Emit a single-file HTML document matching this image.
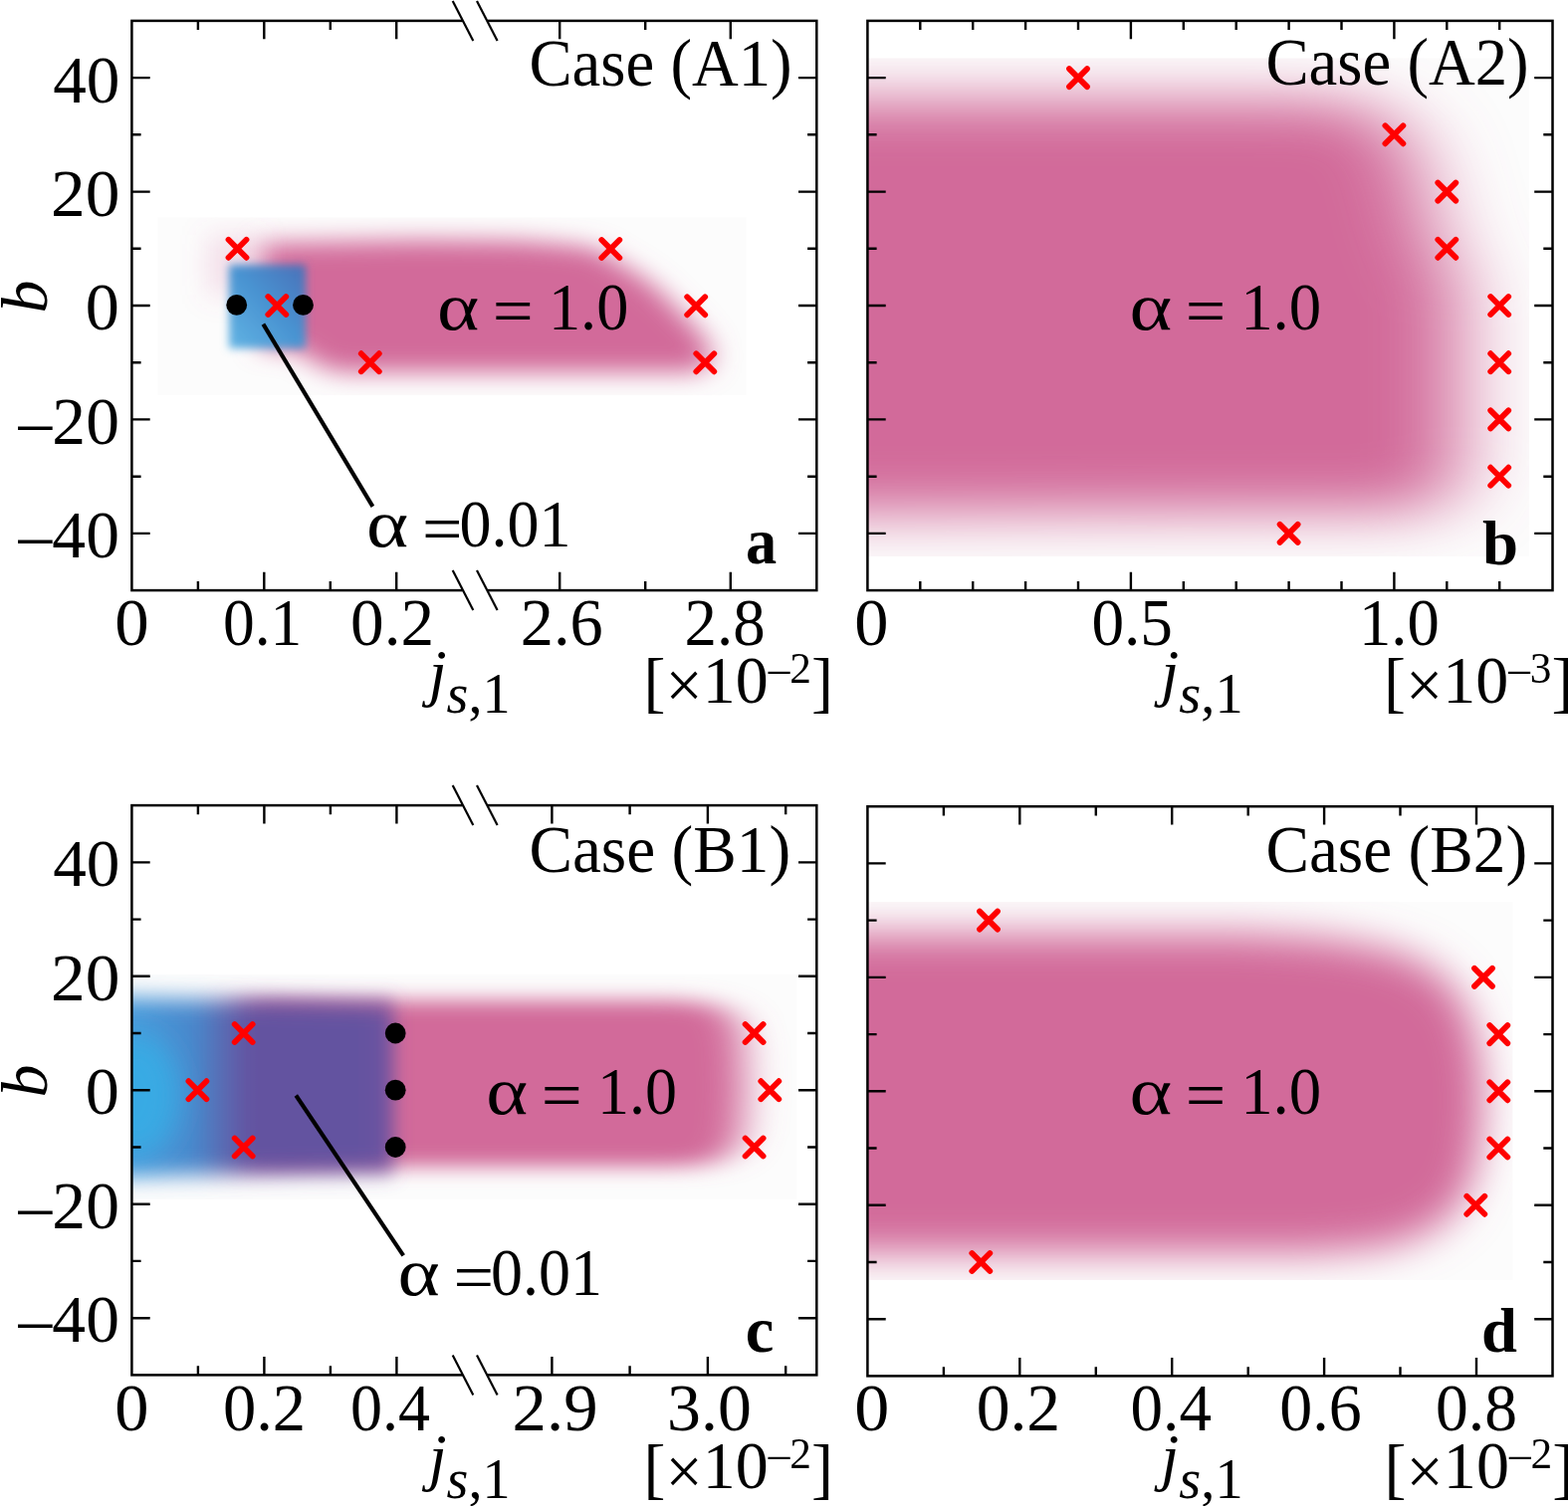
<!DOCTYPE html>
<html><head><meta charset="utf-8"><title>Figure</title>
<style>html,body{margin:0;padding:0;background:#fff;}svg{display:block;}</style></head>
<body><svg width="1575" height="1513" viewBox="0 0 1575 1513">
<defs>
<filter id="bA" x="-20%" y="-40%" width="140%" height="180%"><feGaussianBlur stdDeviation="14 12"/></filter>
<filter id="bA2" x="-50%" y="-50%" width="200%" height="200%"><feGaussianBlur stdDeviation="14"/></filter>
<filter id="bB" x="-30%" y="-30%" width="160%" height="160%"><feGaussianBlur stdDeviation="4"/></filter>
<filter id="bC" x="-20%" y="-20%" width="140%" height="140%"><feGaussianBlur stdDeviation="42 28"/></filter>
<filter id="bD" x="-20%" y="-40%" width="140%" height="180%"><feGaussianBlur stdDeviation="20 10"/></filter>
<filter id="bE" x="-20%" y="-40%" width="140%" height="180%"><feGaussianBlur stdDeviation="9 11"/></filter>
<filter id="bG" x="-100%" y="-100%" width="300%" height="300%"><feGaussianBlur stdDeviation="14"/></filter>
<filter id="bF" x="-20%" y="-20%" width="140%" height="140%"><feGaussianBlur stdDeviation="20 20"/></filter>
<linearGradient id="gA" x1="0" y1="1" x2="1" y2="0">
 <stop offset="0" stop-color="#62b4e4"/><stop offset="0.5" stop-color="#4a94d2"/><stop offset="1" stop-color="#4a70b8"/>
</linearGradient>
<linearGradient id="gC" gradientUnits="userSpaceOnUse" x1="132" y1="0" x2="395" y2="0">
 <stop offset="0" stop-color="#4a9ada"/><stop offset="0.24" stop-color="#4888cc"/><stop offset="0.354" stop-color="#5a6ab2"/><stop offset="0.449" stop-color="#6452a0"/><stop offset="0.886" stop-color="#6452a0"/><stop offset="1" stop-color="#7052a0"/>
</linearGradient>
</defs>
<rect width="1575" height="1513" fill="#fff"/>

<clipPath id="ca"><rect x="158.4" y="218.4" width="591.1" height="178.6"/></clipPath>
<rect x="158.4" y="218.4" width="591.1" height="178.6" fill="#fcfcfc"/>
<g clip-path="url(#ca)">
 <g filter="url(#bA)">
  <path fill="#d26a9a" d="M262.0 244.0 L420.0 241.0 L520.0 242.0 L570.0 246.0 L598.0 250.0 L618.0 262.0 L640.0 275.0 L660.0 290.0 L676.0 306.0 L692.0 322.0 L706.0 338.0 L714.0 352.0 L714.0 366.0 L700.0 374.0 L340.0 374.0 L318.0 366.0 L300.0 352.0 L262.0 350.0 Z"/>
 </g>
 <g filter="url(#bA2)">
  <path fill="#d26a9a" fill-opacity="0.2" d="M208 236 L262 236 L262 296 L208 296 Z"/>
 </g>
 <g filter="url(#bB)">
  <rect x="230" y="266" width="77" height="84" fill="url(#gA)"/>
 </g>
</g>

<clipPath id="cb"><rect x="871.4" y="58.5" width="664.6" height="500.5"/></clipPath>
<rect x="871.4" y="58.5" width="664.6" height="500.5" fill="#fcfcfc"/>
<g clip-path="url(#cb)">
 <g filter="url(#bC)">
  <path fill="#d26a9a" d="M760.0 100.0 L1330.0 100.0 L1372.0 106.0 L1400.0 122.0 L1418.0 148.0 L1430.0 185.0 L1440.0 230.0 L1450.0 256.0 L1465.0 280.0 L1467.0 300.0 L1467.0 470.0 L1457.0 500.0 L1432.0 514.0 L760.0 516.0 Z"/>
 </g>
</g>

<clipPath id="cc"><rect x="132.4" y="979" width="668" height="226"/></clipPath>
<rect x="132.4" y="979" width="668" height="226" fill="#fcfcfc"/>
<g clip-path="url(#cc)">
 <g filter="url(#bD)">
  <path fill="#d26a9a" d="M240.0 1005.0 L690.0 1005.0 L720.0 1010.0 L738.0 1022.0 L746.0 1045.0 L748.0 1095.0 L745.0 1138.0 L735.0 1158.0 L715.0 1169.0 L690.0 1172.0 L240.0 1172.0 Z"/>
 </g>
 <g filter="url(#bE)">
  <path fill="url(#gC)" d="M100 1001 L250 1005 L395 1009 L395 1176 L250 1179 L100 1183 Z"/>
 </g>
 <g filter="url(#bG)">
  <ellipse cx="136" cy="1100" rx="44" ry="62" fill="#38aae4"/>
 </g>
</g>

<clipPath id="cd"><rect x="871.4" y="906" width="648" height="380"/></clipPath>
<rect x="871.4" y="906" width="648" height="380" fill="#fcfcfc"/>
<g clip-path="url(#cd)">
 <g filter="url(#bF)">
  <path fill="#d26a9a" d="M760.0 938.0 L1250.0 938.0 L1330.0 943.0 L1390.0 953.0 L1430.0 968.0 L1458.0 990.0 L1476.0 1021.0 L1486.0 1061.0 L1489.0 1101.0 L1487.0 1141.0 L1480.0 1181.0 L1465.0 1213.0 L1435.0 1238.0 L1390.0 1253.0 L1320.0 1259.0 L760.0 1259.0 Z"/>
 </g>
</g>
<g stroke="#000" stroke-width="2.4" fill="none"><rect x="132.4" y="20.9" width="687.9" height="572.2" fill="none" stroke="#000" stroke-width="2.5"/><path d="M132.4 535.9h18.3M820.3 535.9h-18.3"/><path d="M132.4 478.7h9.2M820.3 478.7h-9.2"/><path d="M132.4 421.4h18.3M820.3 421.4h-18.3"/><path d="M132.4 364.2h9.2M820.3 364.2h-9.2"/><path d="M132.4 307.0h18.3M820.3 307.0h-18.3"/><path d="M132.4 249.8h9.2M820.3 249.8h-9.2"/><path d="M132.4 192.6h18.3M820.3 192.6h-18.3"/><path d="M132.4 135.3h9.2M820.3 135.3h-9.2"/><path d="M132.4 78.1h18.3M820.3 78.1h-18.3"/><path d="M198.9 20.9v9.2M198.9 593.1v-9.2"/><path d="M265.3 20.9v18.3M265.3 593.1v-18.3"/><path d="M331.8 20.9v9.2M331.8 593.1v-9.2"/><path d="M398.2 20.9v18.3M398.2 593.1v-18.3"/><path d="M562.2 20.9v18.3M562.2 593.1v-18.3"/><path d="M648.2 20.9v9.2M648.2 593.1v-9.2"/><path d="M733.8 20.9v18.3M733.8 593.1v-18.3"/></g>
<g stroke="#000" stroke-width="2.4" fill="none"><rect x="871.4" y="20.9" width="688.1" height="572.2" fill="none" stroke="#000" stroke-width="2.5"/><path d="M871.4 535.9h18.3M1559.5 535.9h-18.3"/><path d="M871.4 478.7h9.2M1559.5 478.7h-9.2"/><path d="M871.4 421.4h18.3M1559.5 421.4h-18.3"/><path d="M871.4 364.2h9.2M1559.5 364.2h-9.2"/><path d="M871.4 307.0h18.3M1559.5 307.0h-18.3"/><path d="M871.4 249.8h9.2M1559.5 249.8h-9.2"/><path d="M871.4 192.6h18.3M1559.5 192.6h-18.3"/><path d="M871.4 135.3h9.2M1559.5 135.3h-9.2"/><path d="M871.4 78.1h18.3M1559.5 78.1h-18.3"/><path d="M924.3 20.9v9.2M924.3 593.1v-9.2"/><path d="M977.2 20.9v9.2M977.2 593.1v-9.2"/><path d="M1030.1 20.9v9.2M1030.1 593.1v-9.2"/><path d="M1083.0 20.9v9.2M1083.0 593.1v-9.2"/><path d="M1135.9 20.9v18.3M1135.9 593.1v-18.3"/><path d="M1188.8 20.9v9.2M1188.8 593.1v-9.2"/><path d="M1241.7 20.9v9.2M1241.7 593.1v-9.2"/><path d="M1294.6 20.9v9.2M1294.6 593.1v-9.2"/><path d="M1347.5 20.9v9.2M1347.5 593.1v-9.2"/><path d="M1400.4 20.9v18.3M1400.4 593.1v-18.3"/><path d="M1453.3 20.9v9.2M1453.3 593.1v-9.2"/><path d="M1506.2 20.9v9.2M1506.2 593.1v-9.2"/></g>
<g stroke="#000" stroke-width="2.4" fill="none"><rect x="132.4" y="809.1" width="687.9" height="572.3" fill="none" stroke="#000" stroke-width="2.5"/><path d="M132.4 1324.2h18.3M820.3 1324.2h-18.3"/><path d="M132.4 1266.9h9.2M820.3 1266.9h-9.2"/><path d="M132.4 1209.7h18.3M820.3 1209.7h-18.3"/><path d="M132.4 1152.5h9.2M820.3 1152.5h-9.2"/><path d="M132.4 1095.2h18.3M820.3 1095.2h-18.3"/><path d="M132.4 1038.0h9.2M820.3 1038.0h-9.2"/><path d="M132.4 980.8h18.3M820.3 980.8h-18.3"/><path d="M132.4 923.6h9.2M820.3 923.6h-9.2"/><path d="M132.4 866.4h18.3M820.3 866.4h-18.3"/><path d="M198.9 809.1v9.2M198.9 1381.4v-9.2"/><path d="M265.4 809.1v18.3M265.4 1381.4v-18.3"/><path d="M331.9 809.1v9.2M331.9 1381.4v-9.2"/><path d="M398.4 809.1v18.3M398.4 1381.4v-18.3"/><path d="M554.4 809.1v18.3M554.4 1381.4v-18.3"/><path d="M632.6 809.1v9.2M632.6 1381.4v-9.2"/><path d="M710.9 809.1v18.3M710.9 1381.4v-18.3"/><path d="M789.2 809.1v9.2M789.2 1381.4v-9.2"/></g>
<g stroke="#000" stroke-width="2.4" fill="none"><rect x="871.4" y="810.2" width="688.1" height="572.2" fill="none" stroke="#000" stroke-width="2.5"/><path d="M871.4 1325.2h18.3M1559.5 1325.2h-18.3"/><path d="M871.4 1268.0h9.2M1559.5 1268.0h-9.2"/><path d="M871.4 1210.8h18.3M1559.5 1210.8h-18.3"/><path d="M871.4 1153.5h9.2M1559.5 1153.5h-9.2"/><path d="M871.4 1096.3h18.3M1559.5 1096.3h-18.3"/><path d="M871.4 1039.1h9.2M1559.5 1039.1h-9.2"/><path d="M871.4 981.9h18.3M1559.5 981.9h-18.3"/><path d="M871.4 924.6h9.2M1559.5 924.6h-9.2"/><path d="M871.4 867.4h18.3M1559.5 867.4h-18.3"/><path d="M947.9 810.2v9.2M947.9 1382.4v-9.2"/><path d="M1024.3 810.2v18.3M1024.3 1382.4v-18.3"/><path d="M1100.8 810.2v9.2M1100.8 1382.4v-9.2"/><path d="M1177.2 810.2v18.3M1177.2 1382.4v-18.3"/><path d="M1253.7 810.2v9.2M1253.7 1382.4v-9.2"/><path d="M1330.1 810.2v18.3M1330.1 1382.4v-18.3"/><path d="M1406.5 810.2v9.2M1406.5 1382.4v-9.2"/><path d="M1483.0 810.2v18.3M1483.0 1382.4v-18.3"/></g>
<rect x="464.5" y="18.4" width="25.0" height="5" fill="#fff"/><line x1="454.7" y1="0.9" x2="475.3" y2="40.9" stroke="#000" stroke-width="2.2"/><line x1="479.0" y1="0.9" x2="499.6" y2="40.9" stroke="#000" stroke-width="2.2"/><rect x="464.5" y="590.6" width="25.0" height="5" fill="#fff"/><line x1="454.7" y1="573.1" x2="475.3" y2="613.1" stroke="#000" stroke-width="2.2"/><line x1="479.0" y1="573.1" x2="499.6" y2="613.1" stroke="#000" stroke-width="2.2"/>
<rect x="464.5" y="806.6" width="25.0" height="5" fill="#fff"/><line x1="454.7" y1="789.1" x2="475.3" y2="829.1" stroke="#000" stroke-width="2.2"/><line x1="479.0" y1="789.1" x2="499.6" y2="829.1" stroke="#000" stroke-width="2.2"/><rect x="464.5" y="1378.9" width="25.0" height="5" fill="#fff"/><line x1="454.7" y1="1361.4" x2="475.3" y2="1401.4" stroke="#000" stroke-width="2.2"/><line x1="479.0" y1="1361.4" x2="499.6" y2="1401.4" stroke="#000" stroke-width="2.2"/>
<g stroke="#ff0000" stroke-width="5.8" stroke-linecap="round" fill="none"><path d="M229.5 240.8L247.5 258.8M229.5 258.8L247.5 240.8"/><path d="M269.3 298.0L287.3 316.0M269.3 316.0L287.3 298.0"/><path d="M362.8 355.2L380.8 373.2M362.8 373.2L380.8 355.2"/><path d="M604.3 241.0L622.3 259.0M604.3 259.0L622.3 241.0"/><path d="M690.2 298.3L708.2 316.3M690.2 316.3L708.2 298.3"/><path d="M699.3 355.3L717.3 373.3M699.3 373.3L717.3 355.3"/><path d="M1074.0 69.1L1092.0 87.1M1074.0 87.1L1092.0 69.1"/><path d="M1391.4 126.3L1409.4 144.3M1391.4 144.3L1409.4 126.3"/><path d="M1444.3 183.6L1462.3 201.6M1444.3 201.6L1462.3 183.6"/><path d="M1444.3 240.8L1462.3 258.8M1444.3 258.8L1462.3 240.8"/><path d="M1497.2 298.0L1515.2 316.0M1497.2 316.0L1515.2 298.0"/><path d="M1497.2 355.2L1515.2 373.2M1497.2 373.2L1515.2 355.2"/><path d="M1497.2 412.4L1515.2 430.4M1497.2 430.4L1515.2 412.4"/><path d="M1497.2 469.7L1515.2 487.7M1497.2 487.7L1515.2 469.7"/><path d="M1285.6 526.9L1303.6 544.9M1285.6 544.9L1303.6 526.9"/><path d="M235.7 1029.0L253.7 1047.0M235.7 1047.0L253.7 1029.0"/><path d="M189.4 1086.2L207.4 1104.2M189.4 1104.2L207.4 1086.2"/><path d="M235.7 1143.5L253.7 1161.5M235.7 1161.5L253.7 1143.5"/><path d="M748.6 1029.0L766.6 1047.0M748.6 1047.0L766.6 1029.0"/><path d="M764.3 1086.2L782.3 1104.2M764.3 1104.2L782.3 1086.2"/><path d="M748.6 1143.5L766.6 1161.5M748.6 1161.5L766.6 1143.5"/><path d="M984.0 915.6L1002.0 933.6M984.0 933.6L1002.0 915.6"/><path d="M1481.0 972.9L1499.0 990.9M1481.0 990.9L1499.0 972.9"/><path d="M1496.3 1030.1L1514.3 1048.1M1496.3 1048.1L1514.3 1030.1"/><path d="M1496.3 1087.3L1514.3 1105.3M1496.3 1105.3L1514.3 1087.3"/><path d="M1496.3 1144.5L1514.3 1162.5M1496.3 1162.5L1514.3 1144.5"/><path d="M1473.3 1201.8L1491.3 1219.8M1473.3 1219.8L1491.3 1201.8"/><path d="M976.3 1259.0L994.3 1277.0M976.3 1277.0L994.3 1259.0"/></g>
<g fill="#000"><circle cx="237.7" cy="306.4" r="10.4"/><circle cx="304.5" cy="306.4" r="10.4"/><circle cx="397.2" cy="1038.0" r="10.4"/><circle cx="397.2" cy="1095.2" r="10.4"/><circle cx="397.2" cy="1152.5" r="10.4"/></g>
<g stroke="#000" stroke-width="4.1"><line x1="264.4" y1="325.6" x2="374.4" y2="508.9"/><line x1="297.3" y1="1100.5" x2="405.2" y2="1261.3"/></g>
<g font-family="&quot;Liberation Serif&quot;,&quot;Times New Roman&quot;,serif" fill="#000"><text transform="matrix(1.0032 0 0 1 53.20 0)" y="102.6" font-size="67">40</text>
<text transform="matrix(1.0361 0 0 1 51.09 0)" y="217.1" font-size="67">20</text>
<text transform="matrix(1.0179 0 0 1 85.85 0)" y="331.5" font-size="67">0</text>
<text transform="matrix(1.0082 0 0 1 18.60 0)" y="445.9" font-size="67">&#8211;20</text>
<text transform="matrix(1.0082 0 0 1 18.60 0)" y="560.4" font-size="67">&#8211;40</text>
<text transform="matrix(1.0032 0 0 1 53.20 0)" y="890.3" font-size="67">40</text>
<text transform="matrix(1.0361 0 0 1 51.09 0)" y="1004.8" font-size="67">20</text>
<text transform="matrix(1.0179 0 0 1 85.85 0)" y="1119.2" font-size="67">0</text>
<text transform="matrix(1.0082 0 0 1 18.60 0)" y="1233.7" font-size="67">&#8211;20</text>
<text transform="matrix(1.0082 0 0 1 18.60 0)" y="1348.2" font-size="67">&#8211;40</text>
<text transform="matrix(1.0286 0 0 1 115.21 0)" y="648.3" font-size="67">0</text>
<text transform="matrix(0.9481 0 0 1 223.96 0)" y="648.3" font-size="67">0.1</text>
<text transform="matrix(1.0039 0 0 1 352.09 0)" y="648.3" font-size="67">0.2</text>
<text transform="matrix(0.9899 0 0 1 522.83 0)" y="648.3" font-size="67">2.6</text>
<text transform="matrix(0.9679 0 0 1 687.60 0)" y="648.3" font-size="67">2.8</text>
<text transform="matrix(1.0214 0 0 1 858.34 0)" y="648.3" font-size="67">0</text>
<text transform="matrix(0.9744 0 0 1 1096.38 0)" y="648.3" font-size="67">0.5</text>
<text transform="matrix(0.9653 0 0 1 1364.91 0)" y="648.3" font-size="67">1.0</text>
<text transform="matrix(1.0214 0 0 1 115.24 0)" y="1437.0" font-size="67">0</text>
<text transform="matrix(0.9935 0 0 1 223.92 0)" y="1437.0" font-size="67">0.2</text>
<text transform="matrix(0.9563 0 0 1 352.03 0)" y="1437.0" font-size="67">0.4</text>
<text transform="matrix(1.0256 0 0 1 514.62 0)" y="1437.0" font-size="67">2.9</text>
<text transform="matrix(1.0115 0 0 1 670.07 0)" y="1437.0" font-size="67">3.0</text>
<text transform="matrix(1.0464 0 0 1 858.26 0)" y="1437.0" font-size="67">0</text>
<text transform="matrix(1.0091 0 0 1 980.67 0)" y="1437.0" font-size="67">0.2</text>
<text transform="matrix(0.9713 0 0 1 1135.59 0)" y="1437.0" font-size="67">0.4</text>
<text transform="matrix(0.9848 0 0 1 1285.25 0)" y="1437.0" font-size="67">0.6</text>
<text transform="matrix(0.9782 0 0 1 1442.07 0)" y="1437.0" font-size="67">0.8</text>
<text transform="matrix(0.9664 0 0 1 531.40 0)" y="85.6" font-size="67">Case (A1)</text>
<text transform="matrix(0.9664 0 0 1 1271.40 0)" y="85.0" font-size="67">Case (A2)</text>
<text transform="matrix(0.9739 0 0 1 531.38 0)" y="876.3" font-size="67">Case (B1)</text>
<text transform="matrix(0.9739 0 0 1 1271.38 0)" y="876.3" font-size="67">Case (B2)</text>
<text transform="matrix(0.9600 0 0 1 749.08 0)" y="566.4" font-size="65" font-weight="bold">a</text>
<text transform="matrix(1.0125 0 0 1 1488.99 0)" y="566.9" font-size="64" font-weight="bold">b</text>
<text transform="matrix(0.9769 0 0 1 748.65 0)" y="1357.8" font-size="66" font-weight="bold">c</text>
<text transform="matrix(1.0094 0 0 1 1487.97 0)" y="1357.8" font-size="64" font-weight="bold">d</text>
<text transform="matrix(1.2032 0 0 1 439.09 0)" y="331.3" font-size="67">&#945;</text>
<text transform="matrix(1.0844 0 0 1 494.75 0)" y="335.3" font-size="67">=</text>
<text transform="matrix(0.9600 0 0 1 550.94 0)" y="331.3" font-size="67">1.0</text>
<text transform="matrix(1.2161 0 0 1 1134.55 0)" y="330.8" font-size="67">&#945;</text>
<text transform="matrix(1.0719 0 0 1 1190.78 0)" y="334.8" font-size="67">=</text>
<text transform="matrix(0.9680 0 0 1 1246.19 0)" y="330.8" font-size="67">1.0</text>
<text transform="matrix(1.1935 0 0 1 488.22 0)" y="1118.7" font-size="67">&#945;</text>
<text transform="matrix(1.0844 0 0 1 543.85 0)" y="1122.7" font-size="67">=</text>
<text transform="matrix(0.9560 0 0 1 600.06 0)" y="1118.7" font-size="67">1.0</text>
<text transform="matrix(1.2161 0 0 1 1134.55 0)" y="1118.7" font-size="67">&#945;</text>
<text transform="matrix(1.0719 0 0 1 1190.78 0)" y="1122.7" font-size="67">=</text>
<text transform="matrix(0.9680 0 0 1 1246.19 0)" y="1118.7" font-size="67">1.0</text>
<text transform="matrix(1.2000 0 0 1 368.10 0)" y="549.3" font-size="67">&#945;</text>
<text transform="matrix(1.0719 0 0 1 423.98 0)" y="553.8" font-size="67">=</text>
<text transform="matrix(0.9555 0 0 1 461.53 0)" y="549.3" font-size="67">0.01</text>
<text transform="matrix(1.2032 0 0 1 399.49 0)" y="1301.2" font-size="67">&#945;</text>
<text transform="matrix(1.0750 0 0 1 455.38 0)" y="1305.7" font-size="67">=</text>
<text transform="matrix(0.9555 0 0 1 493.03 0)" y="1301.2" font-size="67">0.01</text>
<text transform="matrix(0.9852 0 0 1 646.47 0)" y="705.9" font-size="67"><tspan dy="2.5">[</tspan><tspan dy="3">&#215;</tspan><tspan dy="-5.5">10</tspan><tspan font-size="44" dy="-19.7">&#8211;2</tspan><tspan dy="22.2">]</tspan></text>
<text transform="matrix(0.9852 0 0 1 1389.97 0)" y="705.9" font-size="67"><tspan dy="2.5">[</tspan><tspan dy="3">&#215;</tspan><tspan dy="-5.5">10</tspan><tspan font-size="44" dy="-19.7">&#8211;3</tspan><tspan dy="22.2">]</tspan></text>
<text transform="matrix(0.9852 0 0 1 646.47 0)" y="1495.2" font-size="67"><tspan dy="2.5">[</tspan><tspan dy="3">&#215;</tspan><tspan dy="-5.5">10</tspan><tspan font-size="44" dy="-19.7">&#8211;2</tspan><tspan dy="22.2">]</tspan></text>
<text transform="matrix(0.9863 0 0 1 1390.57 0)" y="1495.2" font-size="67"><tspan dy="2.5">[</tspan><tspan dy="3">&#215;</tspan><tspan dy="-5.5">10</tspan><tspan font-size="44" dy="-19.7">&#8211;2</tspan><tspan dy="22.2">]</tspan></text>
<text transform="matrix(1.0035 0 0 1 430.72 0)" y="697.0" font-size="64"><tspan font-style="italic">j</tspan><tspan font-size="56" dy="19.5"><tspan font-style="italic">s</tspan>,1</tspan></text>
<text transform="matrix(1.0082 0 0 1 1166.36 0)" y="697.0" font-size="64"><tspan font-style="italic">j</tspan><tspan font-size="56" dy="19.5"><tspan font-style="italic">s</tspan>,1</tspan></text>
<text transform="matrix(1.0035 0 0 1 430.72 0)" y="1485.5" font-size="64"><tspan font-style="italic">j</tspan><tspan font-size="56" dy="19.5"><tspan font-style="italic">s</tspan>,1</tspan></text>
<text transform="matrix(1.0082 0 0 1 1166.36 0)" y="1485.5" font-size="64"><tspan font-style="italic">j</tspan><tspan font-size="56" dy="19.5"><tspan font-style="italic">s</tspan>,1</tspan></text>
<text transform="translate(47.0 314.4) rotate(-90)" font-size="66" font-style="italic">b</text>
<text transform="translate(47.0 1102.4) rotate(-90)" font-size="66" font-style="italic">b</text></g>
</svg></body></html>
